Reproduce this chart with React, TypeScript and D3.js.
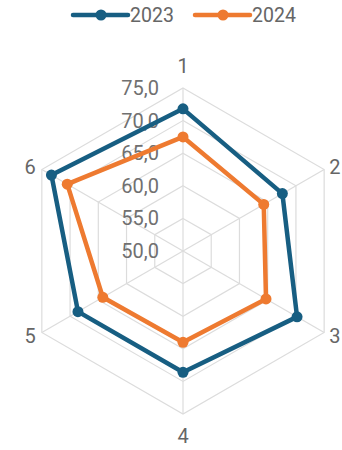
import React from "react";
import * as d3 from "d3";

const categories = ["1", "2", "3", "4", "5", "6"];
const series2023 = [71.8, 67.6, 70.2, 68.6, 68.6, 73.3];
const series2024 = [67.5, 64.3, 64.7, 64.0, 64.2, 70.5];
const tickValues = [50, 55, 60, 65, 70, 75];
const seriesNames = ["2023", "2024"];
const seriesColors = ["#175e82", "#ee7a30"];

const W = 342, H = 450;
const cx = 183, cy = 251, R = 163;

export default function App() {
  const r = d3.scaleLinear().domain([50, 75]).range([0, R]);
  const ang = (i: number) => (i * 2 * Math.PI) / categories.length;
  const pt = (i: number, v: number): [number, number] => [
    cx + r(v) * Math.sin(ang(i)),
    cy - r(v) * Math.cos(ang(i)),
  ];
  const line = d3.line<[number, number]>().curve(d3.curveLinearClosed);
  const fmt = (v: number) => v.toFixed(1).replace(".", ",");
  const all = [series2023, series2024];
  const font = "Roboto, 'Liberation Sans', sans-serif";
  return (
    <svg width={W} height={H} style={{ position: "absolute", left: 0, top: 0 }} fontFamily={font}>
      <rect width={W} height={H} fill="#fff" />
      {tickValues.slice(1).map((t) => (
        <path key={t} d={line(categories.map((_, i) => pt(i, t)))!} fill="none" stroke="#dcdcdc" strokeWidth={1.2} />
      ))}
      {categories.map((_, i) => {
        const [x, y] = pt(i, 75);
        return <line key={i} x1={cx} y1={cy} x2={x} y2={y} stroke="#dcdcdc" strokeWidth={1.2} />;
      })}
      {categories.map((c, i) => {
        const [x, y] = pt(i, 75);
        const s = Math.sin(ang(i));
        const co = Math.cos(ang(i));
        let lx = x, ly = y, anchor = "middle";
        if (Math.abs(s) < 0.01) {
          ly = y - 22 * co;
        } else {
          lx = x + (s > 0 ? 5 : -6);
          ly = y - 6 * co;
          anchor = s > 0 ? "start" : "end";
        }
        return (
          <text key={c} x={lx} y={ly} textAnchor={anchor} dominantBaseline="central" fontSize={20} fill="#666">
            {c}
          </text>
        );
      })}
      {tickValues.map((t) => (
        <text key={t} x={159} y={cy - r(t)} textAnchor="end" dominantBaseline="central" fontSize={20} fill="#707070">
          {fmt(t)}
        </text>
      ))}
      {all.map((s, k) => (
        <g key={k}>
          <path d={line(s.map((v, i) => pt(i, v)))!} fill="none" stroke={seriesColors[k]} strokeWidth={4.5} strokeLinejoin="round" />
          {s.map((v, i) => {
            const [x, y] = pt(i, v);
            return <circle key={i} cx={x} cy={y} r={5.5} fill={seriesColors[k]} />;
          })}
        </g>
      ))}
      {seriesNames.map((n, k) => {
        const x0 = k === 0 ? 73 : 195;
        return (
          <g key={n}>
            <line x1={x0} x2={x0 + 55} y1={15} y2={15} stroke={seriesColors[k]} strokeWidth={4.5} strokeLinecap="round" />
            <circle cx={x0 + 28} cy={15} r={5.5} fill={seriesColors[k]} />
            <text x={x0 + 57} y={15} dominantBaseline="central" fontSize={19.5} fill="#666">
              {n}
            </text>
          </g>
        );
      })}
    </svg>
  );
}
